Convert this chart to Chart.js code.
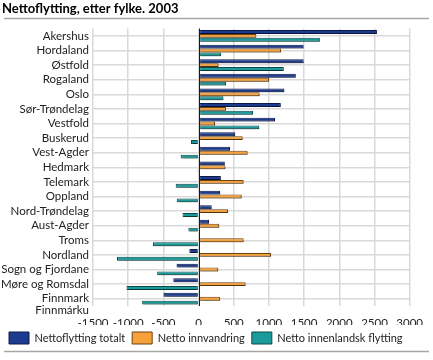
<!DOCTYPE html>
<html>
<head>
<meta charset="utf-8">
<script src="https://cdn.jsdelivr.net/npm/chart.js@4/dist/chart.umd.min.js"></script>
<style>
  html, body { margin: 0; padding: 0; background: #fff; }
  #wrap { width: 433px; height: 360px; position: relative; }
</style>
</head>
<body>
<div id="wrap"><canvas id="chart"></canvas></div>
<script>
const fylker = ['Akershus', 'Hordaland', 'Østfold', 'Rogaland', 'Oslo', 'Sør-Trøndelag', 'Vestfold',
    'Buskerud', 'Vest-Agder', 'Hedmark', 'Telemark', 'Oppland', 'Nord-Trøndelag', 'Aust-Agder',
    'Troms', 'Nordland', 'Sogn og Fjordane', 'Møre og Romsdal', ['', 'Finnmark', 'Finnmárku']];

const totalt = [2535, 1493, 1493, 1382, 1220, 1169, 1086, 521, 447, 373, 317, 308, 187, 150,
    -10, -131, -313, -359, -498];
const innvandring = [821, 1174, 285, 1002, 868, 391, 234, 627, 697, 382, 641, 613, 419, 294,
    641, 1030, 280, 669, 308];
const innenlandsk = [1724, 322, 1211, 391, 354, 775, 863, -107, -255, -15, -325, -311, -228, -145,
    -649, -1159, -588, -1024, -802];

const xTicks = [-1500, -1000, -500, 0, 500, 1000, 1500, 2000, 2500, 3000];

const font = "Lato, 'DejaVu Sans', sans-serif";

// grey rules under the title and at the bottom, plus a soft shadow on bars
const framePlugin = {
    id: 'frame',
    beforeDatasetsDraw(chart) {
        const ctx = chart.ctx;
        ctx.save();
        ctx.shadowColor = 'rgba(0,0,0,0.28)';
        ctx.shadowOffsetX = 1.5;
        ctx.shadowOffsetY = 1.5;
        ctx.shadowBlur = 1;
    },
    afterDatasetsDraw(chart) {
        chart.ctx.restore();
    },
    afterDraw(chart) {
        const ctx = chart.ctx;
        ctx.save();
        ctx.strokeStyle = '#a6a6a6';
        ctx.lineWidth = 1.5;
        ctx.beginPath();
        ctx.moveTo(4, 18.5);
        ctx.lineTo(429, 18.5);
        ctx.moveTo(4, 351.5);
        ctx.lineTo(429, 351.5);
        ctx.stroke();
        // zero line
        const x0 = Math.round(chart.scales.x.getPixelForValue(0)) + 0.5;
        ctx.strokeStyle = '#1a1a1a';
        ctx.lineWidth = 1;
        ctx.beginPath();
        ctx.moveTo(x0, chart.chartArea.top);
        ctx.lineTo(x0, chart.chartArea.bottom);
        ctx.stroke();
        ctx.restore();
    }
};

new Chart(document.getElementById('chart'), {
    type: 'bar',
    data: {
        labels: fylker,
        datasets: [
            {
                label: 'Nettoflytting totalt',
                data: totalt,
                backgroundColor: '#1c3a8e',
                borderColor: '#0c1a4a',
                borderWidth: 1,
                borderSkipped: false
            },
            {
                label: 'Netto innvandring',
                data: innvandring,
                backgroundColor: '#f7a13a',
                borderColor: '#6b4212',
                borderWidth: 1,
                borderSkipped: false
            },
            {
                label: 'Netto innenlandsk flytting',
                data: innenlandsk,
                backgroundColor: '#1a9b9a',
                borderColor: '#0d4a4a',
                borderWidth: 1,
                borderSkipped: false
            }
        ]
    },
    options: {
        indexAxis: 'y',
        responsive: true,
        maintainAspectRatio: false,
        animation: false,
        layout: { padding: { left: 2, right: 16, top: 0, bottom: 6 } },
        datasets: {
            bar: { categoryPercentage: 0.8, barPercentage: 1.0 }
        },
        plugins: {
            title: {
                display: true,
                text: 'Nettoflytting, etter fylke. 2003',
                align: 'start',
                color: '#000',
                font: { family: font, size: 13, weight: 'bold' },
                padding: { top: 1, bottom: 12 }
            },
            legend: {
                position: 'bottom',
                align: 'start',
                labels: {
                    color: '#222',
                    font: { family: font, size: 11 },
                    boxWidth: 20,
                    boxHeight: 12,
                    padding: 7
                }
            },
            tooltip: { enabled: false }
        },
        scales: {
            x: {
                min: -1500,
                max: 3000,
                afterBuildTicks: (axis) => { axis.ticks = xTicks.map(v => ({ value: v })); },
                afterFit: (axis) => { axis.height = 19; },
                grid: { color: '#d9d9d9', lineWidth: 1.5, drawTicks: false },
                border: { display: false },
                ticks: {
                    color: '#222',
                    font: { family: font, size: 11.5 },
                    padding: 10,
                    maxRotation: 0,
                    minRotation: 0,
                    callback: (v) => String(v)
                }
            },
            y: {
                afterFit: (axis) => { axis.width = 91; },
                grid: { color: '#d9d9d9', lineWidth: 1.5, offset: false, drawTicks: false },
                border: { display: false },
                ticks: {
                    color: '#222',
                    font: { family: font, size: 11.5, lineHeight: 1.05 },
                    padding: 4,
                    autoSkip: false
                }
            }
        }
    },
    plugins: [framePlugin]
});
</script>
</body>
</html>
